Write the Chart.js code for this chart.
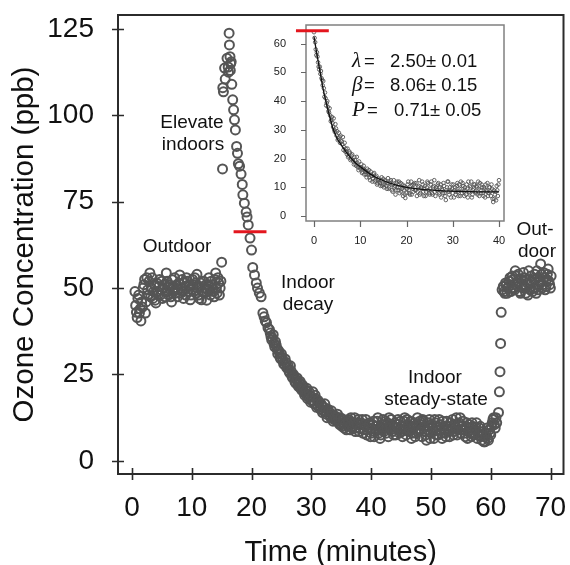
<!DOCTYPE html>
<html><head><meta charset="utf-8">
<script src="https://cdn.jsdelivr.net/npm/chart.js@4"></script>
<style>
html,body{margin:0;padding:0;background:#fff;}
#wrap{position:relative;width:570px;height:565px;overflow:hidden;}
#main{position:absolute;left:0;top:0;}
#inset{position:absolute;left:270px;top:0;}
</style></head><body>
<div id="wrap"><canvas id="main" width="570" height="565"></canvas><canvas id="inset" width="250" height="250"></canvas></div>
<script>
// ---------- main series: time (minutes) and ozone (ppb) ----------
const mainTime = [
 0.5,0.75,1,1.25,1.5,1.75,2,2.25,2.5,2.75,
 3,3.25,3.5,3.75,4,4.25,4.5,4.75,5,5.25,
 5.5,5.75,6,6.25,6.5,6.75,7,7.25,7.5,7.75,
 8,8.25,8.5,8.75,9,9.25,9.5,9.75,10,10.25,
 10.5,10.75,11,11.25,11.5,11.75,12,12.25,12.5,12.75,
 13,13.25,13.5,13.75,14,14.25,14.5,14.75,15,
 15.15,15.2,15.3,15.5,15.9,16.1,16.25,16.3,16.4,16.5,16.6,16.7,16.85,17,17.15,17.3,17.5,17.65,17.8,18,
 18.25,18.45,18.55,18.8,19.1,19.25,19.45,19.75,20,20.2,20.5,20.8,21,21.3,16.15,16.45,15.6,
 21.6,21.9,22.1,22.3,22.5,
 22.75,23,23.25,23.5,23.75,24,24.25,24.5,24.75,25,
 25.25,25.5,25.75,26,26.25,26.5,26.75,27,27.25,27.5,
 27.75,28,28.25,28.5,28.75,29,29.25,29.5,29.75,30,
 30.25,30.5,30.75,31,31.25,31.5,31.75,32,32.25,32.5,
 32.75,33,33.25,33.5,33.75,34,34.25,34.5,34.75,35,
 35.25,35.5,35.75,36,36.25,36.5,36.75,37,37.25,37.5,
 37.75,38,38.25,38.5,38.75,39,39.25,39.5,39.75,40,
 40.25,40.5,40.75,41,41.25,41.5,41.75,42,42.25,42.5,
 42.75,43,43.25,43.5,43.75,44,44.25,44.5,44.75,45,
 45.25,45.5,45.75,46,46.25,46.5,46.75,47,47.25,47.5,
 47.75,48,48.25,48.5,48.75,49,49.25,49.5,49.75,50,
 50.25,50.5,50.75,51,51.25,51.5,51.75,52,52.25,52.5,
 52.75,53,53.25,53.5,53.75,54,54.25,54.5,54.75,55,
 55.25,55.5,55.75,56,56.25,56.5,56.75,57,57.25,57.5,
 57.75,58,58.25,58.5,58.75,59,59.25,59.5,59.75,60,
 60.25,60.5,60.75,61,
 61.3,61.45,61.55,61.65,61.75,
 61.9,62.1,62.35,62.6,62.85,63.1,63.35,63.6,63.85,64.1,
 64.35,64.6,64.85,65.1,65.35,65.6,65.85,66.1,66.35,66.6,
 66.85,67.1,67.35,67.6,67.85,68.1,68.35,68.6,68.85,69.1,
 69.35,69.6,69.85,70.1,
 // interleaved readings
 0.625,0.875,1.125,1.375,1.625,1.875,2.125,2.375,2.625,2.875,
 3.125,3.375,3.625,3.875,4.125,4.375,4.625,4.875,5.125,5.375,
 5.625,5.875,6.125,6.375,6.625,6.875,7.125,7.375,7.625,7.875,
 8.125,8.375,8.625,8.875,9.125,9.375,9.625,9.875,10.125,10.375,
 10.625,10.875,11.125,11.375,11.625,11.875,12.125,12.375,12.625,12.875,
 13.125,13.375,13.625,13.875,14.125,14.375,14.625,14.875,
 23.125,23.375,23.625,23.875,24.125,24.375,24.625,24.875,25.125,25.375,
 25.625,25.875,26.125,26.375,26.625,26.875,27.125,27.375,27.625,27.875,
 28.125,28.375,28.625,28.875,29.125,29.375,29.625,29.875,30.125,30.375,
 30.625,30.875,31.125,31.375,31.625,31.875,32.125,32.375,32.625,32.875,
 33.125,33.375,33.625,33.875,34.125,34.375,34.625,34.875,35.125,35.375,
 35.625,35.875,36.125,36.375,36.625,36.875,37.125,37.375,37.625,37.875,
 38.125,38.375,38.625,38.875,39.125,39.375,39.625,39.875,
 40.125,40.375,40.625,40.875,41.125,41.375,41.625,41.875,42.125,42.375,
 42.625,42.875,43.125,43.375,43.625,43.875,44.125,44.375,44.625,44.875,
 45.125,45.375,45.625,45.875,46.125,46.375,46.625,46.875,47.125,47.375,
 47.625,47.875,48.125,48.375,48.625,48.875,49.125,49.375,49.625,49.875,
 50.125,50.375,50.625,50.875,51.125,51.375,51.625,51.875,52.125,52.375,
 52.625,52.875,53.125,53.375,53.625,53.875,54.125,54.375,54.625,54.875,
 55.125,55.375,55.625,55.875,56.125,56.375,56.625,56.875,57.125,57.375,
 57.625,57.875,58.125,58.375,58.625,58.875,59.125,59.375,59.625,59.875,
 60.125,60.375,60.625,60.875,
 62.225,62.475,62.725,62.975,63.225,63.475,63.725,63.975,64.225,64.475,
 64.725,64.975,65.225,65.475,65.725,65.975,66.225,66.475,66.725,66.975,
 67.225,67.475,67.725,67.975,68.225,68.475,68.725,68.975,69.225,69.475,
 69.725,69.975
];
const mainOzone = [
 49,43,47,42.8,40.5,44.5,51,42.8,53,48,
 54.4,50,47,51,45.7,49,50.5,48,52,50,
 47.5,54.4,49,51,47.5,52.4,50,48.5,51,49.5,
 53.8,50,49,51.5,48,52,50.5,46.6,49.5,51,
 53,48.5,50,47,51.5,49,52,50,46.5,51,
 49.5,52,50,47.5,54.4,48.6,51.5,50,57.5,
 84.5,108,106.8,113.7,116.5,114,123.8,120.4,117,115,115.5,109,104.5,101.6,98.7,95.8,91,89,86,85.3,
 83,80,77,74.6,72,70.6,68.3,64.5,61,56,53.8,51.5,50,48.6,112.5,113,110.5,
 47.5,42.8,41.7,40.5,40,
 38.5,38,36,35.5,34,34.5,32.5,32,30,31,
 29,28,28.5,27,26,27.5,24.5,25,23,23.5,
 22,22.5,21,22,20,19.5,21,18.5,19,17.5,
 20,16.5,18,16,17,15,16,14.5,16.5,13.5,
 15,14,12.5,13.5,12,13,11.5,12.5,10.5,12,
 11,9.5,11.5,10.5,12,9,11,10,12.5,9.5,
 11,8.5,10.5,12,9,10,7.5,9.5,11,8,
 10.5,7,9,11.5,8,6.5,9.5,12,10,8,
 11,12.5,9,10.5,7.5,11,9.5,12,8,10,
 7,11.5,9,12,8.5,10,6.5,9.5,11,8,
 12.5,9,10.5,7,11.5,8.5,6,10,12,8,
 9.5,6.5,11,9,7.5,10.5,8,11.5,9,7,
 10,8.5,11,9.5,7.5,10.5,12.5,9,11,8,
 10,9,7,11,8.5,9.5,7,10,8,9.5,
 6.5,8,10,6,7.5,5.5,8,6.5,9,7.5,
 11,12.5,9.5,11,
 14,20,25.8,34,43,
 49.5,50.5,48.5,51,50,52,49,53.5,50,55,
 51.5,54,49,52.5,50,53,48.5,51.5,55,49.5,
 52,50,54,48.5,53,51,57,50,54.5,49.5,
 52.5,55.5,51,53.5,
 // interleaved readings
 45,41.5,48,44,46,50,52.5,46,49.5,52,
 47.5,53,49,46.5,51.5,48,52.5,49.5,47,51,
 49,52,48,50.5,46,49,53,50,47.5,51.5,
 48.5,52.5,47,50,53,49,51,48,52.5,49,
 51.5,54,48,50.5,46.6,52,48.5,51,49.5,53,
 48,51,49,52.5,50,53,48,52,
 37,35,36.5,33,33.5,31,31.5,29.5,30,28,
 29.5,27,27.5,25.5,26,24,24.5,22.5,24,21.5,
 23,20.5,21.5,19,20.5,18,20,17,18.5,17.5,
 19,15.5,17.5,15.5,16.5,14,15.5,14.5,12.5,14.5,
 13,14.5,11.5,12.5,12,13.5,11,12.5,10,12,
 10.5,9,11.5,10,12.5,9.5,11,8.5,10.5,12,
 9.5,11,8,10.5,12,9,10.5,7,
 9.5,11.5,8.5,10,12.5,9,7.5,10.5,8.5,11.5,
 9.5,7,10.5,12,8.5,10,7.5,10.5,9,11.5,
 8.5,10,12.5,7.5,10.5,9,11.5,8,10,7,
 10.5,8.5,11.5,9,12,10,7.5,9,11,6.5,
 10.5,8.5,12,7.5,10,12,9,6.5,10,8,
 11.5,9,7,10,12,8.5,9.5,7.5,10.5,12.5,
 9,11.5,8,10,6.5,10.5,8,11,7.5,9,
 11,7.5,9.5,7,8.5,5.5,7,9.5,6,8,
 10,12,10.5,12.5,
 49,51.5,48.5,50.5,53,50,52.5,49.5,53.5,50.5,
 52,48.5,51,54.5,50,52.5,48,51,53.5,49,
 52.5,50,55,49.5,52,54,51,53,50.5,54,
 52,50
];
const xTickValues = [0,10,20,30,40,50,60,70];
const yTickValues = [0,25,50,75,100,125];
const mainMarkerX = [17, 22.5];
const mainMarkerLevel = 66.3;

// ---------- inset: indoor decay ----------
const insetTime = [
 0,0.25,0.5,0.75, 1,1.25,1.5,1.75, 2,2.25,2.5,2.75, 3,3.25,3.5,3.75, 4,4.25,4.5,4.75,
 5,5.25,5.5,5.75, 6,6.25,6.5,6.75, 7,7.25,7.5,7.75, 8,8.25,8.5,8.75, 9,9.25,9.5,9.75,
 10,10.25,10.5,10.75, 11,11.25,11.5,11.75, 12,12.25,12.5,12.75, 13,13.25,13.5,13.75, 14,14.25,14.5,14.75,
 15,15.25,15.5,15.75, 16,16.25,16.5,16.75, 17,17.25,17.5,17.75, 18,18.25,18.5,18.75, 19,19.25,19.5,19.75,
 20,20.25,20.5,20.75, 21,21.25,21.5,21.75, 22,22.25,22.5,22.75, 23,23.25,23.5,23.75, 24,24.25,24.5,24.75,
 25,25.25,25.5,25.75, 26,26.25,26.5,26.75, 27,27.25,27.5,27.75, 28,28.25,28.5,28.75, 29,29.25,29.5,29.75,
 30,30.25,30.5,30.75, 31,31.25,31.5,31.75, 32,32.25,32.5,32.75, 33,33.25,33.5,33.75, 34,34.25,34.5,34.75,
 35,35.25,35.5,35.75, 36,36.25,36.5,36.75, 37,37.25,37.5,37.75, 38,38.25,38.5,38.75, 39,39.25,39.5,39.75,
 40,
 0.125,0.375,0.625,0.875, 1.125,1.375,1.625,1.875, 2.125,2.375,2.625,2.875, 3.125,3.375,3.625,3.875,
 4.125,4.375,4.625,4.875, 5.125,5.375,5.625,5.875, 6.125,6.375,6.625,6.875, 7.125,7.375,7.625,7.875,
 8.125,8.375,8.625,8.875, 9.125,9.375,9.625,9.875, 10.125,10.375,10.625,10.875, 11.125,11.375,11.625,11.875,
 12.125,12.375,12.625,12.875, 13.125,13.375,13.625,13.875, 14.125,14.375,14.625,14.875, 15.125,15.375,15.625,15.875,
 16.125,16.375,16.625,16.875, 17.125,17.375,17.625,17.875, 18.125,18.375,18.625,18.875, 19.125,19.375,19.625,19.875,
 20.125,20.375,20.625,20.875, 21.125,21.375,21.625,21.875, 22.125,22.375,22.625,22.875, 23.125,23.375,23.625,23.875,
 24.125,24.375,24.625,24.875, 25.125,25.375,25.625,25.875, 26.125,26.375,26.625,26.875, 27.125,27.375,27.625,27.875,
 28.125,28.375,28.625,28.875, 29.125,29.375,29.625,29.875, 30.125,30.375,30.625,30.875, 31.125,31.375,31.625,31.875,
 32.125,32.375,32.625,32.875, 33.125,33.375,33.625,33.875, 34.125,34.375,34.625,34.875, 35.125,35.375,35.625,35.875,
 36.125,36.375,36.625,36.875, 37.125,37.375,37.625,37.875, 38.125,38.375,38.625,38.875, 39.125,39.375,39.625,39.875
];
const insetOzone = [
 64,60.5,56,55.5, 52,52,50.5,47.4, 47,41.5,41,39.4, 38,36,35,33.5, 32.4,34,29.3,30.5,
 29.5,27,27.5,28, 26,27.5,24,22.5, 22.3,23.5,21,22, 20,21.5,19,20.5, 18,20.6,17,19,
 16.5,18,15.5,17.5, 16,14.5,16.5,15, 13.5,15.5,14,13, 15,12.5,14,11.5, 13,11.5,12.5,10.5,
 13,11,12,9.5, 13.2,10,12,11, 8.5,12.5,10.5,9, 12,10,8,11.5, 9.5,7,10.5,6.3,
 8,11,9,7.5, 12,10.8,8.5,11.5, 9,7,10,12.5, 8,9.5,11,7, 10.5,8.5,12,9,
 7.5,11,8,10, 12.5,7,9.5,11, 8,10,6.5,9, 11.5,8,5.6,10, 12,7.5,9,11,
 8,6.5,10,8.5, 11.5,7,9.5,12, 8,10.5,7,9, 11,6.5,8.5,10.5, 12,7.5,9.5,11,
 8,10,12,7, 9,11,8,10, 6.5,9,11.5,8, 10,7,9.5,4.9, 6,8.5,10.5,7,
 12.5,
 62,58,57,53.5, 51,49.5,48,45.5, 44.5,43,38.5,40, 36.5,37.5,33,34.5,
 31,30,32,28, 26.5,29,25.5,26, 25,23,25.5,23.5, 21.5,20.5,22.5,19.5,
 21,19.5,18,19.5, 17.5,18.5,16,17, 17,15,16.5,14.5, 15.5,13.5,14.5,16,
 12.5,14,12,14.5, 12,13.5,11,12.5, 12,10.5,13.5,11, 10,12.5,10.5,11.5,
 9.5,11.5,12.5,9, 11,10,7.5,11.5, 9,12,10,8.5, 11,9,7.5,10,
 9.5,12,8,10.5, 7.5,9.5,11,9, 11.5,8.5,10.5,7.5, 10,12,8.5,9.5,
 7,10,11.5,8, 9.5,12,7.5,10.5, 8.5,10,9,11.5, 7.5,11,9.5,8,
 10.5,7,9,12, 8.5,10,6.5,9.5, 11,9,7.5,10.5, 8.5,11,7,9.5,
 11.5,8.5,10,7.5, 9.5,12,8,10, 6.5,9,11,8.5, 10.5,7.5,9.5,11.5,
 8,10,7,9.5, 11,8.5,7,10, 8.5,11,6,9, 7.5,5.5,9,11
];
const fitTime  = [0,0.5,1,1.5,2,2.5,3,3.5,4,5,6,7,8,9,10,12,14,16,18,20,22,25,28,31,34,37,40];
const fitOzone = [62.5,57.5,53,48.5,44,40.5,37,34,31,27,24.5,22.2,20.2,18.5,17.2,14.8,13,11.7,10.7,10,9.6,9.1,8.8,8.6,8.5,8.4,8.4];
const insetXTicks = [0,10,20,30,40];
const insetYTicks = [0,10,20,30,40,50,60];
const insetMarkerX = [-3.9, 3.2];
const insetMarkerLevel = 64.5;
const fitParams = [
  {sym:'\u03BB', val:'2.50\u00B1 0.01'},
  {sym:'\u03B2', val:'8.06\u00B1 0.15'},
  {sym:'P', val:'0.71\u00B1 0.05'}
];

const SANS = "'Liberation Sans', Arial, Helvetica, sans-serif";
const SERIF = "'Liberation Serif', 'Times New Roman', serif";
const RED = '#e3161e';
const INK = '#111111';

const mainPlugin = {
  id: 'mainDeco',
  beforeDatasetsDraw(chart) {
    const {ctx, chartArea: a, scales: {x, y}} = chart;
    ctx.save();
    ctx.strokeStyle = '#2b2b2b';
    ctx.lineWidth = 2;
    ctx.strokeRect(a.left, a.top, a.right - a.left, a.bottom - a.top);
    ctx.lineWidth = 1.6;
    ctx.beginPath();
    xTickValues.forEach(v => { const p = Math.round(x.getPixelForValue(v)) + 0.5; ctx.moveTo(p, a.bottom - 6); ctx.lineTo(p, a.bottom + 6); });
    yTickValues.forEach(v => { const p = Math.round(y.getPixelForValue(v)) + 0.5; ctx.moveTo(a.left - 6, p); ctx.lineTo(a.left + 6, p); });
    ctx.stroke();
    ctx.restore();
  },
  afterDraw(chart) {
    const {ctx, chartArea: a} = chart;
    ctx.save();
    ctx.fillStyle = INK;
    ctx.font = '29px ' + SANS;
    ctx.textAlign = 'center';
    ctx.textBaseline = 'alphabetic';
    ctx.fillText('Time (minutes)', (a.left + a.right) / 2, 561);
    ctx.save();
    ctx.translate(33, (a.top + a.bottom) / 2);
    ctx.rotate(-Math.PI / 2);
    ctx.font = '29.5px ' + SANS;
    ctx.fillText('Ozone Concentration (ppb)', 0, 0);
    ctx.restore();
    ctx.font = '19px ' + SANS;
    const notes = [
      ['Elevate', 192, 128], ['indoors', 193, 150],
      ['Outdoor', 177, 252],
      ['Indoor', 308, 288], ['decay', 308, 310],
      ['Indoor', 435, 383], ['steady-state', 436, 405],
      ['Out-', 535, 235], ['door', 537, 257]
    ];
    notes.forEach(([t, px, py]) => ctx.fillText(t, px, py));
    const rows = [67, 91, 116];
    const eqX = [364, 364, 367];
    const numX = [390, 390, 394];
    ctx.textAlign = 'left';
    fitParams.forEach((r, i) => {
      ctx.font = 'italic 21px ' + SERIF;
      ctx.fillText(r.sym, 352, rows[i]);
      ctx.font = '18.5px ' + SANS;
      ctx.fillText('=', eqX[i], rows[i]);
      ctx.fillText(r.val, numX[i], rows[i]);
    });
    ctx.restore();
  }
};

new Chart(document.getElementById('main'), {
  type: 'scatter',
  data: {
    datasets: [
      { type: 'line', data: mainMarkerX.map(v => ({x: v, y: mainMarkerLevel})), borderColor: RED, borderWidth: 3,
        pointRadius: 0, order: 0, clip: false },
      { data: mainTime.map((t, i) => ({x: t, y: mainOzone[i]})), pointRadius: 4.5, pointBorderWidth: 2,
        pointBorderColor: '#555555', pointBackgroundColor: 'rgba(0,0,0,0)', borderColor: '#555555',
        backgroundColor: 'rgba(0,0,0,0)', order: 1, clip: false }
    ]
  },
  options: {
    responsive: false, animation: false, devicePixelRatio: 1,
    events: [],
    layout: {padding: {left: 0, top: 15, right: 5, bottom: 0}},
    plugins: {legend: {display: false}, tooltip: {enabled: false}},
    scales: {
      x: {
        type: 'linear', min: -2.33, max: 72.17,
        grid: {display: false}, border: {display: false},
        ticks: {font: {family: SANS, size: 28}, color: INK, padding: 9, autoSkip: false, maxRotation: 0},
        afterBuildTicks: s => { s.ticks = xTickValues.map(v => ({value: v})); },
        afterFit: s => { s.height = 91; s.paddingLeft = 0; s.paddingRight = 0; }
      },
      y: {
        type: 'linear', min: -3.8, max: 129.05,
        grid: {display: false}, border: {display: false},
        ticks: {font: {family: SANS, size: 28}, color: INK, padding: 16, autoSkip: false},
        afterBuildTicks: s => { s.ticks = yTickValues.map(v => ({value: v})); },
        afterFit: s => { s.width = 118; s.paddingTop = 0; s.paddingBottom = 0; }
      }
    }
  },
  plugins: [mainPlugin]
});

const insetPlugin = {
  id: 'insetDeco',
  beforeDatasetsDraw(chart) {
    const {ctx, chartArea: a, scales: {x, y}} = chart;
    ctx.save();
    ctx.strokeStyle = '#808080';
    ctx.lineWidth = 1.5;
    ctx.strokeRect(a.left, a.top, a.right - a.left, a.bottom - a.top);
    ctx.lineWidth = 1.2;
    ctx.strokeStyle = '#666';
    ctx.beginPath();
    insetXTicks.forEach(v => { const p = Math.round(x.getPixelForValue(v)) + 0.5; ctx.moveTo(p, a.bottom); ctx.lineTo(p, a.bottom + 6); });
    insetYTicks.forEach(v => { const p = Math.round(y.getPixelForValue(v)) + 0.5; ctx.moveTo(a.left - 5, p); ctx.lineTo(a.left, p); });
    ctx.stroke();
    ctx.restore();
  }
};

new Chart(document.getElementById('inset'), {
  type: 'scatter',
  data: {
    datasets: [
      { type: 'line', data: insetMarkerX.map(v => ({x: v, y: insetMarkerLevel})), borderColor: RED, borderWidth: 3,
        pointRadius: 0, order: 0, clip: false },
      { type: 'line', data: fitTime.map((t, i) => ({x: t, y: fitOzone[i]})), borderColor: '#111', borderWidth: 1.3,
        pointRadius: 0, cubicInterpolationMode: 'monotone', order: 1 },
      { data: insetTime.map((t, i) => ({x: t, y: insetOzone[i]})), pointRadius: 1.8, pointBorderWidth: 0.9,
        pointBorderColor: '#555555', pointBackgroundColor: 'rgba(0,0,0,0)', borderColor: '#555555',
        backgroundColor: 'rgba(0,0,0,0)', order: 2, clip: false }
    ]
  },
  options: {
    responsive: false, animation: false, devicePixelRatio: 1,
    events: [],
    layout: {padding: {left: 0, top: 25, right: 16, bottom: 0}},
    plugins: {legend: {display: false}, tooltip: {enabled: false}},
    scales: {
      x: {
        type: 'linear', min: -1.73, max: 41.08,
        grid: {display: false}, border: {display: false},
        ticks: {font: {family: SANS, size: 11}, color: '#222', padding: 5, autoSkip: false, maxRotation: 0},
        afterBuildTicks: s => { s.ticks = insetXTicks.map(v => ({value: v})); },
        afterFit: s => { s.height = 29; s.paddingLeft = 0; s.paddingRight = 0; }
      },
      y: {
        type: 'linear', min: -1.7, max: 66.5,
        grid: {display: false}, border: {display: false},
        ticks: {font: {family: SANS, size: 11}, color: '#222', padding: 12, autoSkip: false},
        afterBuildTicks: s => { s.ticks = insetYTicks.map(v => ({value: v})); },
        afterFit: s => { s.width = 36; s.paddingTop = 0; s.paddingBottom = 0; }
      }
    }
  },
  plugins: [insetPlugin]
});
</script>
</body></html>
